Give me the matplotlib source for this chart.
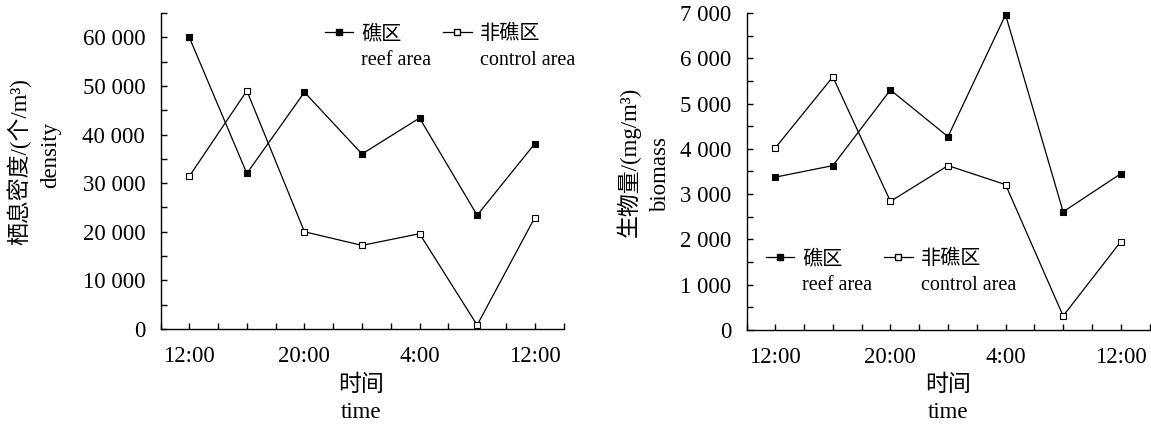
import matplotlib
matplotlib.use("Agg")
import matplotlib.pyplot as plt
from matplotlib.lines import Line2D
from matplotlib.ticker import MultipleLocator, FixedLocator, FuncFormatter
import numpy as np

plt.rcParams['font.family'] = ['Liberation Serif', 'Noto Sans CJK SC']

# ---------------- data ----------------
time_idx = [0, 1, 2, 3, 4, 5, 6]
time_tick_pos = [0, 2, 4, 6]
time_tick_labels = ["12:00", "20:00", "4:00", "12:00"]

density_reef = [60000, 32000, 48700, 36000, 43400, 23400, 38100]
density_control = [31400, 49000, 20000, 17200, 19600, 800, 22900]

biomass_reef = [3375, 3630, 5300, 4270, 6960, 2610, 3450]
biomass_control = [4020, 5590, 2840, 3630, 3210, 310, 1950]

reef_label = ["礁区", "reef area"]
control_label = ["非礁区", "control area"]

W, H = 1151, 428
fig = plt.figure(figsize=(W / 100, H / 100), dpi=100)


def px_axes(x0, y0, x1, y1):
    # x0,x1 left/right; y0 top, y1 bottom (pixel coords from top-left)
    return fig.add_axes([x0 / W, 1 - y1 / H, (x1 - x0) / W, (y1 - y0) / H])


def thousands(v, pos):
    v = int(round(v))
    return f"{v:,}".replace(",", " ")


def style_axes(ax, ymax, ymajor):
    ax.set_xlim(-0.5, 6.5)
    ax.set_ylim(0, ymax)
    for s in ("top", "right"):
        ax.spines[s].set_visible(False)
    for s in ("left", "bottom"):
        ax.spines[s].set_linewidth(1.0)
    ax.xaxis.set_major_locator(FixedLocator(time_tick_pos))
    ax.set_xticklabels(time_tick_labels)
    ax.xaxis.set_minor_locator(FixedLocator(list(np.arange(-0.5, 6.51, 0.5))))
    ax.yaxis.set_major_locator(MultipleLocator(ymajor))
    ax.yaxis.set_minor_locator(MultipleLocator(ymajor / 2))
    ax.yaxis.set_major_formatter(FuncFormatter(thousands))
    ax.tick_params(axis="both", which="both", direction="in", length=4.5, width=1.0,
                   labelsize=16.5)
    ax.tick_params(axis="x", which="major", pad=12)
    ax.tick_params(axis="y", which="major", pad=11)


def plot_series(ax, reef, control):
    ax.plot(time_idx, reef, color="black", lw=0.9, marker="s", ms=5,
            mfc="black", mec="black", mew=0.8, clip_on=False, zorder=3)
    ax.plot(time_idx, control, color="black", lw=0.9, marker="s", ms=5,
            mfc="white", mec="black", mew=0.8, clip_on=False, zorder=3)


def add_legend(ax, anchor):
    h_reef = Line2D([], [], color="black", lw=0.9, marker="s", ms=5, mfc="black", mec="black")
    h_ctrl = Line2D([], [], color="black", lw=0.9, marker="s", ms=5, mfc="white", mec="black")
    blank = Line2D([], [], linestyle="none")
    handles = [h_reef, blank, h_ctrl, blank]
    labels = [reef_label[0], reef_label[1], control_label[0], control_label[1]]
    leg = ax.legend(handles, labels, ncol=2, loc="upper left", bbox_to_anchor=anchor,
                    frameon=False, fontsize=14.5, handlelength=1.4, handletextpad=0.4,
                    columnspacing=0.6, labelspacing=0.35, borderpad=0, borderaxespad=0)
    return leg


# ---------------- left panel ----------------
ax1 = px_axes(160.5, 13, 563.5, 329)
style_axes(ax1, 65000, 10000)
plot_series(ax1, density_reef, density_control)
add_legend(ax1, ((325 - 160.5) / 403, (329 - 25) / 316))

fig.text(19 / W, 1 - 162 / H, "栖息密度/(个/m³)", rotation=90, ha="center", va="center",
         fontsize=16.5)
fig.text(51 / W, 1 - 155 / H, "density", rotation=90, ha="center", va="center", fontsize=16.5)
fig.text(361 / W, 1 - 385 / H, "时间", ha="center", va="center", fontsize=16.5)
fig.text(361 / W, 1 - 413 / H, "time", ha="center", va="center", fontsize=16.5)

# ---------------- right panel ----------------
ax2 = px_axes(746.5, 13, 1149.5, 330)
style_axes(ax2, 7000, 1000)
plot_series(ax2, biomass_reef, biomass_control)
add_legend(ax2, ((766 - 746.5) / 403, (330 - 250) / 317))

fig.text(629 / W, 1 - 162 / H, "生物量/(mg/m³)", rotation=90, ha="center", va="center",
         fontsize=16.5)
fig.text(661 / W, 1 - 175 / H, "biomass", rotation=90, ha="center", va="center", fontsize=16.5)
fig.text(948 / W, 1 - 385 / H, "时间", ha="center", va="center", fontsize=16.5)
fig.text(948 / W, 1 - 413 / H, "time", ha="center", va="center", fontsize=16.5)

fig.savefig("out.png", dpi=100)
